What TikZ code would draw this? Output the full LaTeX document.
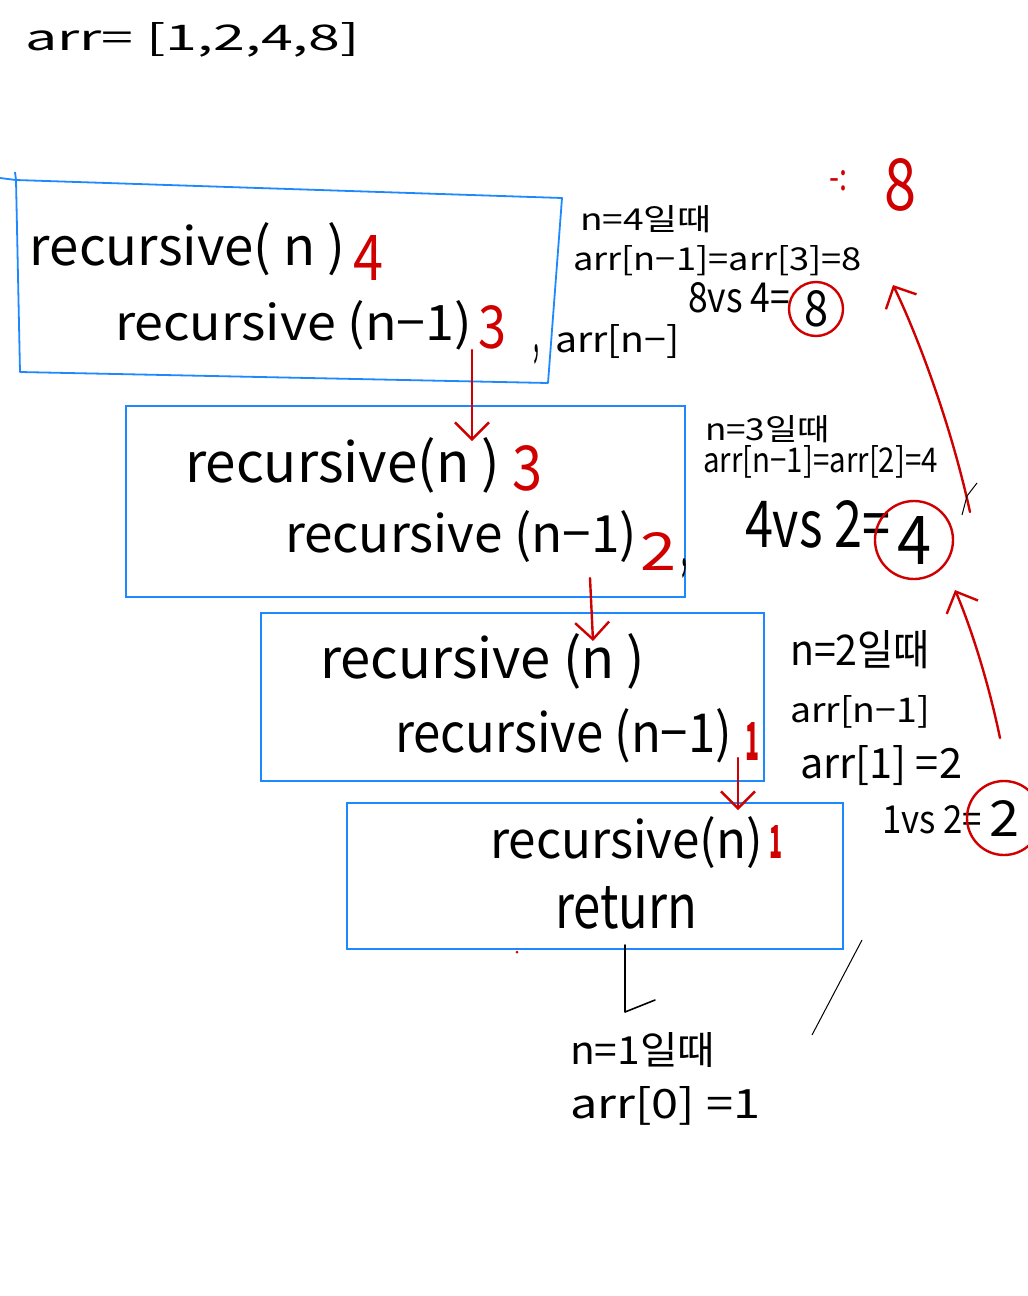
\documentclass[tikz,border=0pt]{standalone}
\usepackage{fontspec}
\setmainfont{Noto Sans CJK KR}
\usetikzlibrary{arrows.meta}
\definecolor{bx}{RGB}{30,136,255}
\definecolor{rd}{RGB}{208,0,0}
\newcommand\hw[3]{\resizebox{#1pt}{#2pt}{#3}}
\tikzset{
  txt/.style={anchor=base west,inner sep=0pt,outer sep=0pt},
  rtxt/.style={txt,text=rd},
  boxr/.style={draw=bx,line width=1.8pt,inner sep=0pt,anchor=north west},
  rarr/.style={draw=rd,line width=2.4pt,line cap=round,-{Straight Barb[length=17pt,width=34pt,line width=2.4pt]}},
  karr/.style={draw=black,line width=1.6pt,line cap=round},
  ring/.style={draw=rd,line width=2.4pt,circle,inner sep=0pt},
  digit/.style={inner sep=0pt,outer sep=0pt},
}
\begin{document}
\begin{tikzpicture}[x=1pt,y=-1pt]
\useasboundingbox (0,0) rectangle (1028,1296);
\fill[white] (0,0) rectangle (1028,1296);

% title
\node[txt] (title) at (25,50) {\hw{335}{28}{arr= [1,2,4,8]}};

% box 1 (slightly tilted)
\coordinate (b1a) at (16,180);
\coordinate (b1b) at (562,198);
\coordinate (b1c) at (548,383);
\coordinate (b1d) at (20,372);
\coordinate (b1s) at (0,178);
\coordinate (b1t) at (15,172);
\draw[draw=bx,line width=1.8pt,line join=round] (b1a) -- (b1b) -- (b1c) -- (b1d) -- cycle;
\draw[draw=bx,line width=1.8pt] (b1s) -- (b1a);
\draw[draw=bx,line width=1.8pt] (b1t) -- (b1a);
\node[txt] (l1a) at (30,265) {\hw{315}{43}{recursive( n )}};
\node[rtxt] (r1a) at (353,280) {\hw{30}{45}{4}};
\node[txt] (l1b) at (115,340) {\hw{357}{40}{recursive (n−1)}};
\node[rtxt] (r1b) at (478,348) {\hw{28}{43}{3}};
\node[txt] (cm1) at (533,352) {\hw{6}{8}{,}};
\node[txt] (n1) at (555,352) {\hw{125}{28}{arr[n−]}};

% box 2
\node[boxr,minimum width=559pt,minimum height=191pt] (b2) at (125,405) {};
\node[txt] (l2a) at (185,482) {\hw{315}{45}{recursive(n )}};
\node[rtxt] (r2a) at (512,490) {\hw{30}{45}{3}};
\node[txt] (l2b) at (285,552) {\hw{352}{42}{recursive (n−1)}};
\node[rtxt] (r2b) at (640,570) {\hw{36}{38}{2}};
\node[txt] (cm2) at (681,566) {\hw{6}{8}{,}};

% box 3
\node[boxr,minimum width=503pt,minimum height=168pt] (b3) at (260,612) {};
\node[txt] (l3a) at (320,678) {\hw{325}{45}{recursive (n )}};
\node[txt] (l3b) at (395,752) {\hw{337}{44}{recursive (n−1)}};
\node[rtxt] (r3b) at (745,760) {\hw{14}{38}{\bfseries 1}};

% box 4
\node[boxr,minimum width=496pt,minimum height=146pt] (b4) at (346,802) {};
\node[txt] (l4a) at (490,858) {\hw{273}{42}{recursive(n)}};
\node[rtxt] (r4a) at (769,858) {\hw{13}{33}{\bfseries 1}};
\node[txt] (l4b) at (555,928) {\hw{142}{42}{return}};

% bottom notes
\node[txt] (n1a) at (570,1064) {\hw{145}{32}{n=1일때}};
\node[txt] (n1b) at (570,1118) {\hw{190}{32}{arr[0] =1}};

% right notes n=4
\node[txt] (n4a) at (580,230) {\hw{132}{25}{n=4일때}};
\node[txt] (n4b) at (573,270) {\hw{289}{25}{arr[n−1]=arr[3]=8}};
\node[txt] (n4c) at (688,312) {\hw{102}{30}{8vs 4=}};
\node[ring,minimum size=54pt] (c8) at (816,309) {};
\node[digit] (d8) at (c8) {\hw{24}{36}{8}};
\node[rtxt] (topm) at (829,190) {\hw{18}{20}{-:}};
\node[rtxt] (top8) at (884,210) {\hw{32}{52}{8}};

% right notes n=3
\node[txt] (n3a) at (705,440) {\hw{125}{25}{n=3일때}};
\node[txt] (n3b) at (703,472) {\hw{235}{27}{arr[n−1]=arr[2]=4}};
\node[txt] (n3c) at (745,547) {\hw{145}{47}{4vs 2=}};
\node[ring,minimum size=78pt] (c4) at (914,540) {};
\node[digit] (d4) at (c4) {\hw{34}{48}{4}};

% right notes n=2
\node[txt] (n2a) at (790,665) {\hw{140}{35}{n=2일때}};
\node[txt] (n2b) at (790,722) {\hw{140}{27}{arr[n−1]}};
\node[txt] (n2c) at (800,778) {\hw{162}{33}{arr[1] =2}};
\node[txt] (n2d) at (882,833) {\hw{100}{28}{1vs 2=}};
\node[ring,minimum size=74pt] (c2) at (1004,818) {};
\node[digit] (d2) at (c2) {\hw{30}{36}{2}};

% red down arrows
\coordinate (a1s) at (472,350);
\coordinate (a1e) at (472,441);
\draw[rarr] (a1s) -- (a1e);
\coordinate (a2s) at (590,578);
\coordinate (a2e) at (593,641);
\draw[rarr] (a2s) -- (a2e);
\coordinate (a3s) at (738,758);
\coordinate (a3e) at (738,810);
\draw[rarr] (a3s) -- (a3e);

% black arrow to n=1
\coordinate (k1s) at (625,945);
\coordinate (k1e) at (625,1012);
\coordinate (k1h) at (655,1000);
\draw[karr,line join=round] (k1s) -- (k1e) -- (k1h);

% red return arrows
\coordinate (r1s) at (970,512);
\coordinate (r1e) at (893,285);
\draw[rarr] (r1s) .. controls (950,420) and (915,330) .. (r1e);
\coordinate (r2s) at (1000,738);
\coordinate (r2e) at (955,590);
\draw[rarr] (r2s) .. controls (988,680) and (970,625) .. (r2e);

% small marks
\coordinate (m1) at (962,515);
\coordinate (m2) at (967,496);
\coordinate (m3) at (977,483);
\draw[black,line width=1pt] (m1) -- (m2) -- (m3);
\coordinate (s1) at (862,940);
\coordinate (s2) at (812,1035);
\draw[black,line width=1pt] (s1) -- (s2);
\coordinate (dot) at (517,952);
\fill[rd] (dot) circle (1.5pt);
\end{tikzpicture}
\end{document}
